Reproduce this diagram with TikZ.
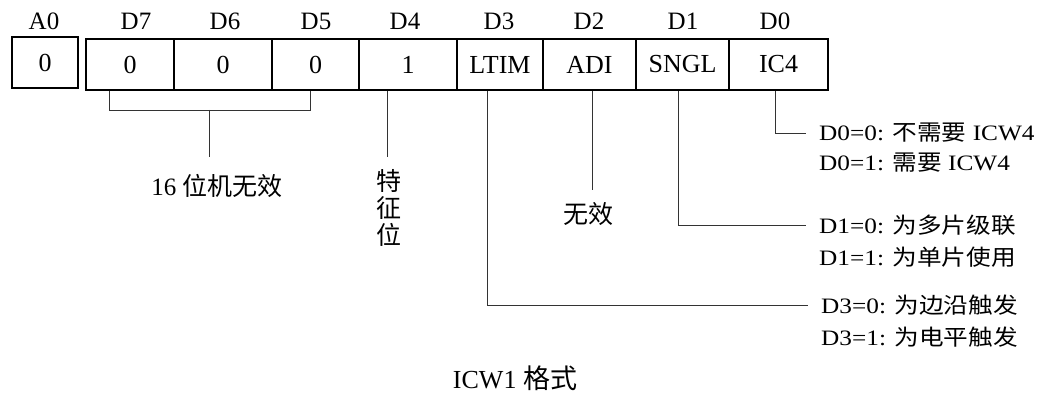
\documentclass[tikz,border=0pt]{standalone}
\usepackage{fontspec}
\setmainfont{Liberation Serif}
\newfontfamily\cjkfont{Noto Sans CJK SC}
\newfontfamily\cjkwide[FakeStretch=1.12]{Noto Sans CJK SC}
\newfontfamily\widefont[FakeStretch=1.15]{Liberation Serif}
\newcommand{\zh}[1]{{\cjkfont #1}}
\newcommand{\zw}[1]{{\cjkwide #1}}
\begin{document}
\begin{tikzpicture}[x=1pt,y=-1pt,
  cell/.style={draw, line width=1.5pt, minimum height=51pt, inner sep=0pt,
    font=\fontsize{26}{26}\selectfont},
  toplab/.style={inner sep=0pt, font=\fontsize{25}{25}\selectfont},
  conn/.style={line width=0.9pt, draw=black!80},
  downlab/.style={anchor=north, inner xsep=0pt, font=\fontsize{25}{27}\selectfont},
  rtxt/.style={anchor=west, inner xsep=13pt, inner ysep=0pt,
    font=\widefont\fontsize{22}{22}\selectfont}]
\useasboundingbox (0,0) rectangle (1049,395);

% register cells
\node[cell, minimum width=66pt] (a0) at (45,62.5) {0};
\node[cell, minimum width=88pt] (d7) at (130,64.5) {0};
\node[cell, minimum width=98pt] (d6) at (223,64.5) {0};
\node[cell, minimum width=87pt] (d5) at (315.5,64.5) {0};
\node[cell, minimum width=98pt] (d4) at (408,64.5) {1};
\node[cell, minimum width=86pt] (d3) at (500,64.5) {LTIM};
\node[cell, minimum width=93pt] (d2) at (589.5,64.5) {ADI};
\node[cell, minimum width=93pt] (d1) at (682.5,64.5) {SNGL};
\node[cell, minimum width=99pt] (d0) at (778.5,64.5) {IC4};

% bit labels
\node[toplab] (la0) at (44,21) {A0};
\node[toplab] (ld7) at (136,21) {D7};
\node[toplab] (ld6) at (225,21) {D6};
\node[toplab] (ld5) at (316,21) {D5};
\node[toplab] (ld4) at (405,21) {D4};
\node[toplab] (ld3) at (499,21) {D3};
\node[toplab] (ld2) at (589,21) {D2};
\node[toplab] (ld1) at (683,21) {D1};
\node[toplab] (ld0) at (775,21) {D0};

% lower labels
\node[downlab, inner ysep=17pt] (inv16) at (217,157) {16 \zh{位机无效}};
\node[downlab, inner ysep=12pt, align=center] (tzw) at (389,157) {\zh{特}\\\zh{征}\\\zh{位}};
\node[downlab, inner ysep=12pt] (inv2) at (588,190) {\zh{无效}};

% right explanations
\node[rtxt] (d0a) at (806,133) {D0=0: \zw{不需要} ICW4};
\node[rtxt] (d0b) at (806,163) {D0=1: \zw{需要} ICW4};
\node[rtxt] (d1a) at (806,225) {D1=0: \zw{为多片级联}};
\node[rtxt] (d1b) at (806,257) {D1=1: \zw{为单片使用}};
\node[rtxt] (d3a) at (808,305) {D3=0: \zw{为边沿触发}};
\node[rtxt] (d3b) at (808,337) {D3=1: \zw{为电平触发}};

% caption
\node[font=\fontsize{26}{26}\selectfont] (cap) at (515,378) {ICW1 {\cjkfont\fontsize{27}{27}\selectfont 格式}};

% connectors
\coordinate (bl) at (109,110);
\coordinate (brr) at (310,110);
\coordinate (bm) at (209,110);
\coordinate (x4) at (387,0);
\coordinate (x3) at (487,0);
\coordinate (x2) at (592,0);
\coordinate (x1) at (678,0);
\coordinate (x0) at (775,0);
\draw[conn] (d7.south -| bl) -- (bl) -- (brr) -- (d5.south -| brr);
\draw[conn] (bm) -- (inv16.north -| bm);
\draw[conn] (d4.south -| x4) -- (tzw.north -| x4);
\draw[conn] (d2.south -| x2) -- (inv2.north -| x2);
\draw[conn] (d0.south -| x0) |- (d0a.west);
\draw[conn] (d1.south -| x1) |- (d1a.west);
\draw[conn] (d3.south -| x3) |- (d3a.west);
\end{tikzpicture}
\end{document}
